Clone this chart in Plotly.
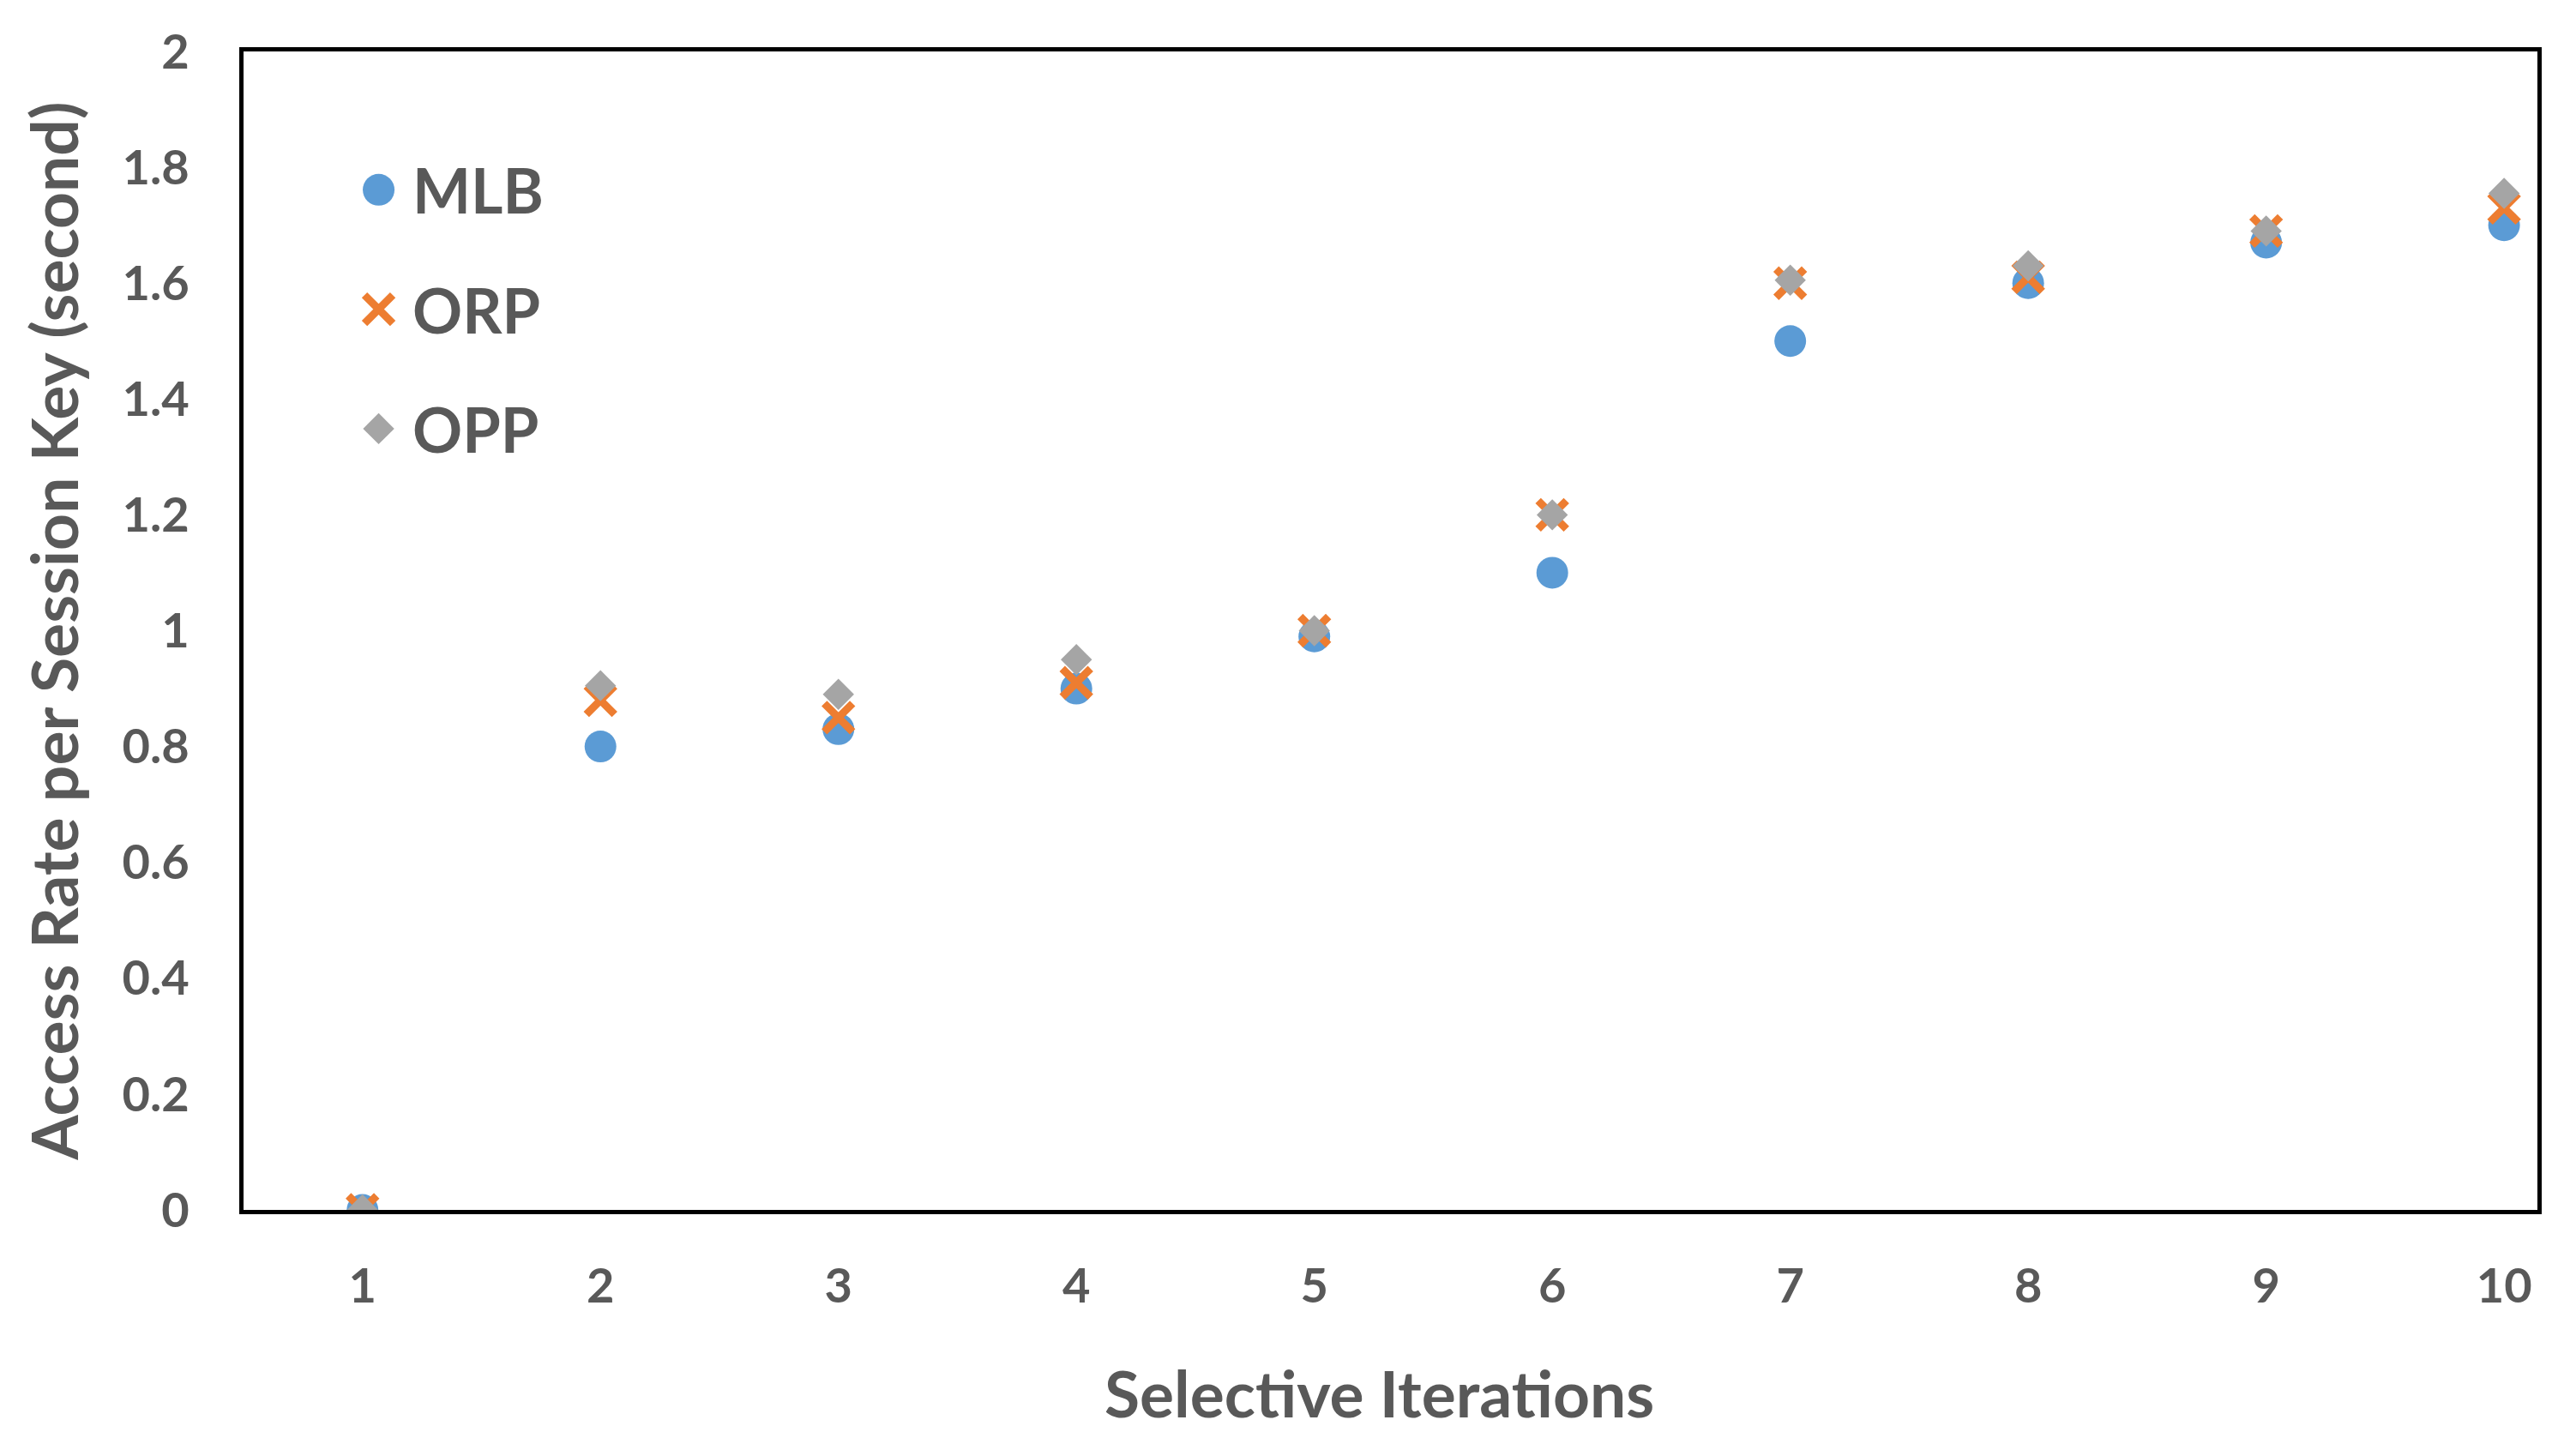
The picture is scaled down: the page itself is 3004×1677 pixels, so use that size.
import plotly.graph_objects as go

iterations = [1, 2, 3, 4, 5, 6, 7, 8, 9, 10]
tick_labels = ["1", "2", "3", "4", "5", "6", "7", "8", "9", "10"]
mlb = [0.00, 0.80, 0.83, 0.90, 0.99, 1.10, 1.50, 1.60, 1.67, 1.70]
orp = [0.00, 0.88, 0.85, 0.91, 1.00, 1.20, 1.60, 1.61, 1.69, 1.73]
opp = [0.00, 0.905, 0.89, 0.95, 1.00, 1.20, 1.605, 1.63, 1.69, 1.755]
y_ticks = [0, 0.2, 0.4, 0.6, 0.8, 1, 1.2, 1.4, 1.6, 1.8, 2]
y_tick_text = ["0", "0.2", "0.4", "0.6", "0.8", "1", "1.2", "1.4", "1.6", "1.8", "2"]
series_names = ["MLB", "ORP", "OPP"]

FONT = "Lato"
TXT = "#595959"
COLORS = ["#5B9BD5", "#ED7D31", "#A5A5A5"]
MARKERS = [
    dict(symbol="circle", size=37, color=COLORS[0]),
    dict(symbol="x-thin", size=33, color=COLORS[1], line=dict(color=COLORS[1], width=9)),
    dict(symbol="diamond", size=28, color=COLORS[2]),
]

fig = go.Figure()
for name, vals, mk in zip(series_names, [mlb, orp, opp], MARKERS):
    fig.add_trace(go.Scatter(x=iterations, y=vals, mode="markers", name=name,
                             marker=mk, showlegend=False))

# Custom legend (larger keys than Plotly's capped legend symbols)
leg_x = 0.0589
leg_text_x = 0.0730
leg_y = [0.8806, 0.7775, 0.6744]
for name, mk, ly in zip(series_names, MARKERS, leg_y):
    fig.add_trace(go.Scatter(x=[leg_x], y=[ly], mode="markers", marker=mk,
                             xaxis="x2", yaxis="y2", showlegend=False,
                             hoverinfo="skip"))
    fig.add_annotation(text=name, xref="paper", yref="paper", x=leg_text_x, y=ly,
                       xanchor="left", yanchor="middle", showarrow=False,
                       font=dict(family=FONT, size=72, color=TXT, weight="bold"))

fig.update_layout(
    width=3004, height=1677,
    paper_bgcolor="white", plot_bgcolor="white",
    margin=dict(l=276, r=53, t=52, b=274),
    font=dict(family=FONT, color=TXT, size=56),
    showlegend=False,
    xaxis=dict(range=[0.5, 10.14], tickmode="array", tickvals=iterations,
               ticktext=tick_labels, showgrid=False, zeroline=False,
               showline=True, linecolor="black", linewidth=5, mirror=True,
               ticks="", ticklabelstandoff=36,
               tickfont=dict(family=FONT, size=56, color=TXT, weight="bold")),
    yaxis=dict(range=[0, 2], tickmode="array", tickvals=y_ticks,
               ticktext=y_tick_text, showgrid=False, zeroline=False,
               showline=True, linecolor="black", linewidth=5, mirror=True,
               ticks="", ticklabelstandoff=47,
               tickfont=dict(family=FONT, size=56, color=TXT, weight="bold")),
    xaxis2=dict(range=[0, 1], overlaying="x", visible=False, fixedrange=True),
    yaxis2=dict(range=[0, 1], overlaying="y", visible=False, fixedrange=True),
)
fig.add_annotation(text="Selective Iterations", xref="paper", yref="paper",
                   x=0.495, y=-0.158, xanchor="center", yanchor="middle",
                   showarrow=False,
                   font=dict(family=FONT, size=75, color=TXT, weight="bold"))
fig.add_annotation(text="Access Rate per Session Key (second)", xref="paper", yref="paper",
                   x=-0.083, y=0.5, xanchor="center", yanchor="middle", textangle=-90,
                   showarrow=False,
                   font=dict(family=FONT, size=75, color=TXT, weight="bold"))

fig.write_html("out.html")
